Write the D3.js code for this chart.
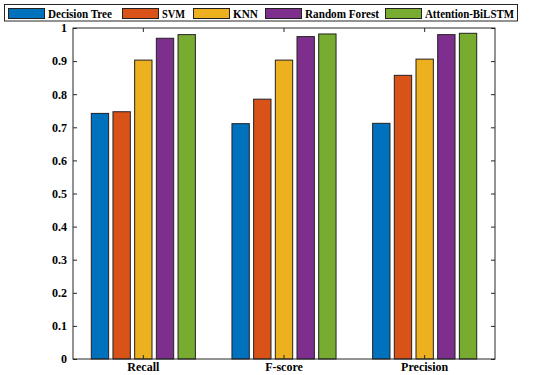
<!DOCTYPE html>
<html><head><meta charset="utf-8">
<script src="https://cdn.jsdelivr.net/npm/d3@7"></script>
<style>body{margin:0;background:#fff;} svg{display:block;}</style>
</head><body>
<script>
const categories = ["Recall", "F-score", "Precision"];
const seriesNames = ["Decision Tree", "SVM", "KNN", "Random Forest", "Attention-BiLSTM"];
const decisionTree = [0.742, 0.711, 0.712];
const svmVals = [0.747, 0.785, 0.857];
const knnVals = [0.903, 0.903, 0.906];
const randomForest = [0.969, 0.974, 0.980];
const attentionBiLSTM = [0.980, 0.982, 0.984];
const yTicks = [0, 0.1, 0.2, 0.3, 0.4, 0.5, 0.6, 0.7, 0.8, 0.9, 1];
const colors = ["#0072BD", "#D95319", "#EDB120", "#7E2F8E", "#77AC30"];
const seriesValues = [decisionTree, svmVals, knnVals, randomForest, attentionBiLSTM];

const W = 550, H = 375;
const m = {left: 73, right: 55, top: 28, bottom: 16};
const svg = d3.select("body").append("svg").attr("width", W).attr("height", H);
const font = "'Liberation Serif','Times New Roman',serif";

const x = d3.scaleBand().domain(categories).range([m.left, W - m.right]).padding(0);
const y = d3.scaleLinear().domain([0, 1]).range([H - m.bottom, m.top]);
const groupFrac = 0.74;
const inner = d3.scaleBand().domain(d3.range(seriesNames.length))
  .range([0, x.bandwidth() * groupFrac]).paddingInner(0.2).paddingOuter(0);
const offset = (x.bandwidth() - x.bandwidth() * groupFrac) / 2;

// bars
seriesValues.forEach((vals, si) => {
  svg.append("g").selectAll("rect").data(vals).join("rect")
    .attr("x", (d, i) => x(categories[i]) + offset + inner(si))
    .attr("y", d => y(d))
    .attr("width", inner.bandwidth())
    .attr("height", d => y(0) - y(d))
    .attr("fill", colors[si])
    .attr("stroke", "#222")
    .attr("stroke-width", 1);
});

// box
const x0 = m.left, x1 = W - m.right, y0 = y(0), y1 = y(1);
svg.append("rect").attr("x", x0).attr("y", y1).attr("width", x1 - x0).attr("height", y0 - y1)
  .attr("fill", "none").attr("stroke", "#262626").attr("stroke-width", 1);

// left axis
const yAxis = d3.axisLeft(y).tickValues(yTicks).tickSize(-4).tickPadding(6)
  .tickFormat(d => d3.format("")(+d.toFixed(1)));
const gy = svg.append("g").attr("transform", `translate(${x0},0)`).call(yAxis);
gy.select(".domain").remove();
gy.selectAll("line").attr("stroke", "#262626");
gy.selectAll("text").attr("font-family", font).attr("font-weight", "bold").attr("font-size", 12).attr("fill", "#000");

// right ticks
const gr = svg.append("g").attr("transform", `translate(${x1},0)`)
  .call(d3.axisRight(y).tickValues(yTicks).tickSize(-4).tickFormat(""));
gr.select(".domain").remove();
gr.selectAll("line").attr("stroke", "#262626");

// bottom axis
const xAxis = d3.axisBottom(x).tickSize(-4).tickPadding(3);
const gx = svg.append("g").attr("transform", `translate(0,${y0})`).call(xAxis);
gx.select(".domain").remove();
gx.selectAll("line").attr("stroke", "#262626");
gx.selectAll("text").attr("font-family", font).attr("font-weight", "bold").attr("font-size", 12).attr("fill", "#000");

// top ticks
const gt = svg.append("g").attr("transform", `translate(0,${y1})`)
  .call(d3.axisTop(x).tickSize(-4).tickFormat(""));
gt.select(".domain").remove();
gt.selectAll("line").attr("stroke", "#262626");

// legend
const leg = svg.append("g");
leg.append("rect").attr("x", 4.5).attr("y", 4.5).attr("width", 513).attr("height", 16.5)
  .attr("fill", "#fff").attr("stroke", "#262626").attr("stroke-width", 1);
const legX = [8, 122, 193, 265, 385];
const legW = [64, 23, 25, 74, 89];
seriesNames.forEach((n, i) => {
  leg.append("rect").attr("x", legX[i] + 0.5).attr("y", 8.5).attr("width", 36).attr("height", 10)
    .attr("fill", colors[i]).attr("stroke", "#222").attr("stroke-width", 1);
  leg.append("text").attr("x", legX[i] + 40).attr("y", 17.5).text(n)
    .attr("textLength", legW[i]).attr("lengthAdjust", "spacingAndGlyphs")
    .attr("font-family", font).attr("font-weight", "bold").attr("font-size", 12).attr("fill", "#000");
});
</script>
</body></html>
